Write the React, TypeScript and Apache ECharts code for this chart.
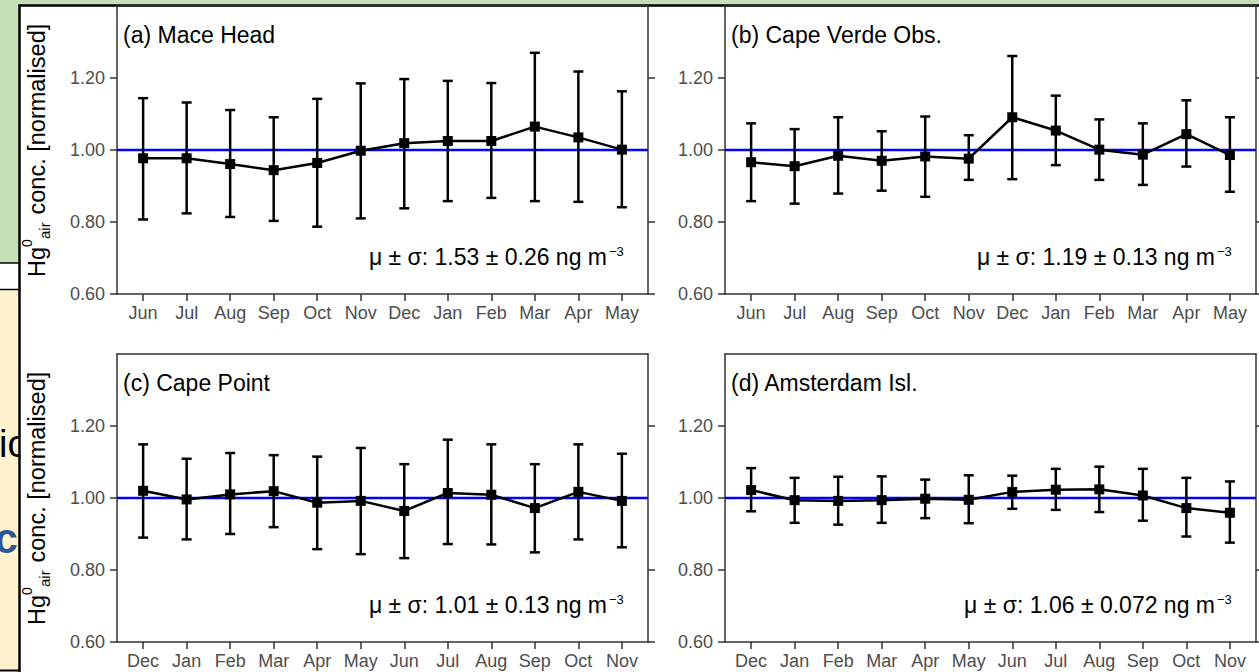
import React, { useEffect, useRef } from 'react';
import * as echarts from 'echarts';

// ---------------- data ----------------
const monthsJunMay = ['Jun', 'Jul', 'Aug', 'Sep', 'Oct', 'Nov', 'Dec', 'Jan', 'Feb', 'Mar', 'Apr', 'May'];
const monthsDecNov = ['Dec', 'Jan', 'Feb', 'Mar', 'Apr', 'May', 'Jun', 'Jul', 'Aug', 'Sep', 'Oct', 'Nov'];
const yTickValues = [0.6, 0.8, 1.0, 1.2];
const yRightTickValues = [0.6, 0.8, 1.2];
const referenceLevel = 1.0;

const maceHeadMean = [0.977, 0.977, 0.961, 0.944, 0.964, 0.998, 1.019, 1.025, 1.025, 1.065, 1.035, 1.001];
const maceHeadUpper = [1.144, 1.132, 1.111, 1.091, 1.142, 1.185, 1.197, 1.192, 1.186, 1.270, 1.218, 1.163];
const maceHeadLower = [0.807, 0.824, 0.814, 0.803, 0.787, 0.810, 0.838, 0.858, 0.867, 0.858, 0.856, 0.841];

const capeVerdeMean = [0.966, 0.955, 0.984, 0.970, 0.982, 0.976, 1.091, 1.054, 1.001, 0.987, 1.044, 0.986];
const capeVerdeUpper = [1.074, 1.058, 1.091, 1.052, 1.093, 1.041, 1.261, 1.151, 1.085, 1.074, 1.138, 1.091];
const capeVerdeLower = [0.858, 0.851, 0.879, 0.887, 0.870, 0.917, 0.919, 0.958, 0.917, 0.903, 0.954, 0.884];

const capePointMean = [1.020, 0.996, 1.010, 1.019, 0.987, 0.992, 0.964, 1.014, 1.009, 0.972, 1.017, 0.992];
const capePointUpper = [1.149, 1.109, 1.125, 1.119, 1.115, 1.139, 1.094, 1.162, 1.149, 1.094, 1.149, 1.123];
const capePointLower = [0.890, 0.885, 0.900, 0.919, 0.858, 0.844, 0.833, 0.872, 0.871, 0.849, 0.885, 0.863];

const amsterdamMean = [1.022, 0.994, 0.992, 0.994, 0.998, 0.995, 1.017, 1.023, 1.024, 1.007, 0.972, 0.959];
const amsterdamUpper = [1.083, 1.056, 1.059, 1.060, 1.051, 1.063, 1.062, 1.081, 1.087, 1.081, 1.056, 1.046];
const amsterdamLower = [0.963, 0.931, 0.926, 0.931, 0.944, 0.930, 0.970, 0.967, 0.961, 0.937, 0.893, 0.876];

const panelTitles = ['(a) Mace Head', '(b) Cape Verde Obs.', '(c) Cape Point', '(d) Amsterdam Isl.'];
const panelStats = [
  'μ ± σ: 1.53 ± 0.26 ng m',
  'μ ± σ: 1.19 ± 0.13 ng m',
  'μ ± σ: 1.01 ± 0.13 ng m',
  'μ ± σ: 1.06 ± 0.072 ng m',
];
const statsUnitSup = '−3';

const panels = [
  { months: monthsJunMay, mean: maceHeadMean, upper: maceHeadUpper, lower: maceHeadLower },
  { months: monthsJunMay, mean: capeVerdeMean, upper: capeVerdeUpper, lower: capeVerdeLower },
  { months: monthsDecNov, mean: capePointMean, upper: capePointUpper, lower: capePointLower },
  { months: monthsDecNov, mean: amsterdamMean, upper: amsterdamUpper, lower: amsterdamLower },
];

// ---------------- layout ----------------
const FONT = "'Liberation Sans', Arial, Helvetica, sans-serif";
const GRID_W = 531;
const GRID_H = 288;
const gridPos = [
  [117, 6],
  [725, 6],
  [117, 354],
  [725, 354],
];
const X_MIN = -0.6;
const X_MAX = 11.6;
const AXIS_COLOR = '#333333';
const LABEL_COLOR = '#4d4d4d';

function buildOption() {
  const grid: any[] = [];
  const xAxis: any[] = [];
  const yAxis: any[] = [];
  const series: any[] = [];
  const graphic: any[] = [];

  // ---- slide background behind the figure ----
  graphic.push(
    { type: 'rect', z: -20, shape: { x: 0, y: 0, width: 1259, height: 263 }, style: { fill: '#c5e0b4' } },
    { type: 'line', z: -19, shape: { x1: 0, y1: 263, x2: 19, y2: 263 }, style: { stroke: '#000', lineWidth: 1.5 } },
    { type: 'rect', z: -20, shape: { x: 0, y: 289, width: 19, height: 381 }, style: { fill: '#fff2cc' } },
    { type: 'line', z: -19, shape: { x1: 0, y1: 289.5, x2: 19, y2: 289.5 }, style: { stroke: '#000', lineWidth: 1.5 } },
    { type: 'line', z: -19, shape: { x1: 0, y1: 670.5, x2: 19, y2: 670.5 }, style: { stroke: '#000', lineWidth: 2 } },
    {
      type: 'text', z: -18, x: -1, y: 444,
      style: { text: 'ic', fontSize: 38, fontFamily: FONT, fill: '#000', align: 'left', verticalAlign: 'middle' },
    },
    {
      type: 'text', z: -18, x: -5.5, y: 538,
      style: { text: 'cc', fontSize: 42, fontWeight: 'bold', fontFamily: FONT, fill: '#2f5597', align: 'left', verticalAlign: 'middle' },
    },
    // figure (white image with black frame)
    {
      type: 'rect', z: -10,
      shape: { x: 19.5, y: 5.5, width: 1260, height: 700 },
      style: { fill: '#ffffff', stroke: '#000000', lineWidth: 2.5 },
    }
  );

  // ---- y axis titles (rotated) ----
  [277, 625].forEach((startY) => {
    graphic.push({
      type: 'group', x: 45, y: startY, rotation: Math.PI / 2, z: 5,
      children: [
        { type: 'text', x: 0, y: -8, style: { text: 'Hg', fontSize: 23.5, fontFamily: FONT, fill: '#000', align: 'left', verticalAlign: 'middle' } },
        { type: 'text', x: 30, y: -18, style: { text: '0', fontSize: 14, fontFamily: FONT, fill: '#000', align: 'left', verticalAlign: 'middle' } },
        { type: 'text', x: 38, y: -1, style: { text: 'air', fontSize: 15, fontFamily: FONT, fill: '#000', align: 'left', verticalAlign: 'middle' } },
        { type: 'text', x: 56, y: -8, style: { text: ' conc. [normalised]', fontSize: 23.5, fontFamily: FONT, fill: '#000', align: 'left', verticalAlign: 'middle' } },
      ],
    });
  });

  panels.forEach((p, i) => {
    const [left, top] = gridPos[i];
    grid.push({ left, top, width: GRID_W, height: GRID_H, containLabel: false });

    const idxTicks = p.months.map((_, j) => j);
    xAxis.push({
      type: 'value', gridIndex: i, min: X_MIN, max: X_MAX, position: 'bottom',
      axisLine: { show: true, onZero: false, lineStyle: { color: AXIS_COLOR, width: 1.5 } },
      axisTick: { show: true, inside: false, length: 7, customValues: idxTicks, lineStyle: { color: AXIS_COLOR, width: 1.5 } },
      axisLabel: {
        show: true, customValues: idxTicks, margin: 10,
        formatter: (v: number) => p.months[Math.round(v)] ?? '',
        color: LABEL_COLOR, fontSize: 18, fontFamily: FONT,
      },
      splitLine: { show: false },
    });
    xAxis.push({
      type: 'value', gridIndex: i, min: X_MIN, max: X_MAX, position: 'top',
      axisLine: { show: true, onZero: false, lineStyle: { color: AXIS_COLOR, width: 1.5 } },
      axisTick: { show: false }, axisLabel: { show: false }, splitLine: { show: false },
    });
    yAxis.push({
      type: 'value', gridIndex: i, min: 0.6, max: 1.4, position: 'left',
      axisLine: { show: true, onZero: false, lineStyle: { color: AXIS_COLOR, width: 1.5 } },
      axisTick: { show: true, inside: false, length: 7, customValues: yTickValues, lineStyle: { color: AXIS_COLOR, width: 1.5 } },
      axisLabel: {
        show: true, customValues: yTickValues, margin: 12,
        formatter: (v: number) => v.toFixed(2),
        color: LABEL_COLOR, fontSize: 18, fontFamily: FONT,
      },
      splitLine: { show: false },
    });
    yAxis.push({
      type: 'value', gridIndex: i, min: 0.6, max: 1.4, position: 'right',
      axisLine: { show: true, onZero: false, lineStyle: { color: AXIS_COLOR, width: 1.5 } },
      axisTick: { show: true, inside: false, length: 7, customValues: yRightTickValues, lineStyle: { color: AXIS_COLOR, width: 1.5 } },
      axisLabel: { show: false }, splitLine: { show: false },
    });

    const xi = i * 2;
    const yi = i * 2;

    // reference line
    series.push({
      type: 'line', xAxisIndex: xi, yAxisIndex: yi, z: 1, silent: true,
      data: [[X_MIN, referenceLevel], [X_MAX, referenceLevel]],
      symbol: 'none', lineStyle: { color: '#0000ff', width: 2.5 },
    });

    // error bars
    series.push({
      type: 'custom', xAxisIndex: xi, yAxisIndex: yi, z: 3, silent: true,
      data: p.lower.map((lo, j) => [j, lo, p.upper[j]]),
      encode: { x: 0, y: [1, 2] },
      renderItem: (params: any, api: any) => {
        const x = api.value(0);
        const hi = api.coord([x, api.value(2)]);
        const lo = api.coord([x, api.value(1)]);
        const w = 5;
        const st = { stroke: '#000', lineWidth: 2.5 };
        return {
          type: 'group',
          children: [
            { type: 'line', shape: { x1: hi[0], y1: hi[1], x2: lo[0], y2: lo[1] }, style: st },
            { type: 'line', shape: { x1: hi[0] - w, y1: hi[1], x2: hi[0] + w, y2: hi[1] }, style: st },
            { type: 'line', shape: { x1: lo[0] - w, y1: lo[1], x2: lo[0] + w, y2: lo[1] }, style: st },
          ],
        };
      },
    });

    // mean line with squares
    series.push({
      type: 'line', xAxisIndex: xi, yAxisIndex: yi, z: 4, silent: true,
      data: p.mean.map((v, j) => [j, v]),
      symbol: 'rect', symbolSize: 10, showSymbol: true,
      lineStyle: { color: '#000', width: 2.5 },
      itemStyle: { color: '#000', borderWidth: 0 },
    });

    // panel title
    graphic.push({
      type: 'text', x: left + 6, y: top + 29, z: 5,
      style: { text: panelTitles[i], fontSize: 23, fontFamily: FONT, fill: '#000', align: 'left', verticalAlign: 'middle' },
    });
    // statistics annotation
    graphic.push({
      type: 'text', x: left + 490, y: top + 251, z: 5,
      style: { text: panelStats[i], fontSize: 23, fontFamily: FONT, fill: '#000', align: 'right', verticalAlign: 'middle' },
    });
    graphic.push({
      type: 'text', x: left + 492, y: top + 245, z: 5,
      style: { text: statsUnitSup, fontSize: 13, fontFamily: FONT, fill: '#000', align: 'left', verticalAlign: 'middle' },
    });
  });

  return {
    animation: false,
    backgroundColor: 'transparent',
    grid,
    xAxis,
    yAxis,
    series,
    graphic: { elements: graphic },
  };
}

export default function App() {
  const ref = useRef<HTMLDivElement>(null);
  useEffect(() => {
    document.body.style.margin = '0';
    document.body.style.overflow = 'hidden';
    const chart = echarts.init(ref.current as HTMLDivElement, null, { renderer: 'svg' });
    chart.setOption(buildOption() as any);
    return () => {
      chart.dispose();
    };
  }, []);
  return <div ref={ref} style={{ width: 1259, height: 672 }} />;
}
